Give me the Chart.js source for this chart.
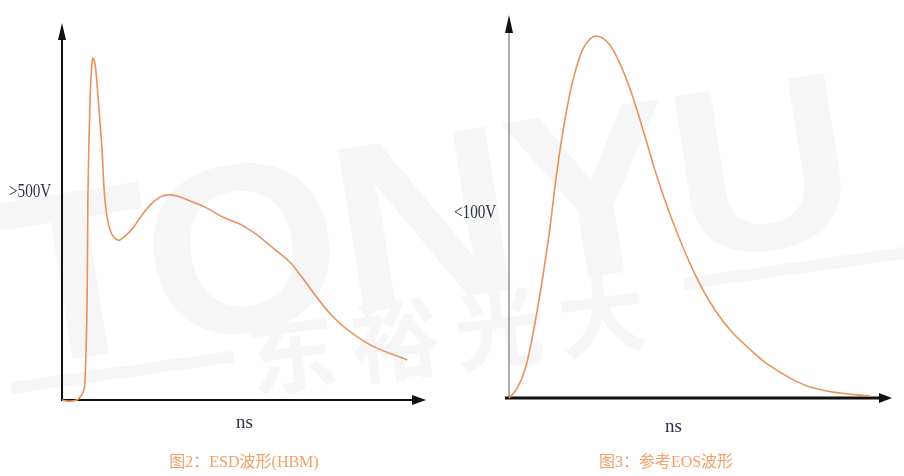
<!DOCTYPE html>
<html>
<head>
<meta charset="utf-8">
<script src="https://cdn.jsdelivr.net/npm/chart.js@4"></script>
<style>
  html, body { margin:0; padding:0; background:#fff; }
  #wrap { position:relative; width:904px; height:476px; overflow:hidden; background:#fff; }
  .cv { position:absolute; top:0; }
  .lbl { position:absolute; font-family:"Liberation Serif", serif; color:#2d3448; white-space:nowrap; }
  .cap { position:absolute; font-family:"Liberation Serif","Noto Sans CJK SC", serif; color:#f39f68; font-size:16px; white-space:nowrap; transform:translateX(-50%); }
  .wm { position:absolute; color:#f6f6f6; font-family:"Liberation Sans", sans-serif; font-weight:bold; white-space:nowrap; transform-origin:0 0; }
</style>
</head>
<body>
<div id="wrap">
  <div class="wm" style="left:-20px; top:150px; font-size:240px; letter-spacing:-4px; transform:rotate(-9deg) scaleX(1.05);">TONYU</div>
  <div class="wm" style="left:240px; top:290px; font-size:88px; font-family:'Noto Sans CJK SC'; letter-spacing:16px; transform:rotate(-7deg);">东裕光大</div>
  <div class="wm" style="left:10px; top:382px; width:225px; height:12px; background:#f6f6f6; transform:rotate(-8deg);"></div>
  <div class="wm" style="left:683px; top:278px; width:225px; height:12px; background:#f6f6f6; transform:rotate(-8deg);"></div>

  <div class="cv" style="left:0; width:450px; height:476px;"><canvas id="c1"></canvas></div>
  <div class="cv" style="left:450px; width:454px; height:476px;"><canvas id="c2"></canvas></div>

  <div class="lbl" style="left:9px; top:180px; font-size:19px; transform:scaleX(0.8); transform-origin:0 0;">&gt;500V</div>
  <div class="lbl" style="left:454px; top:201px; font-size:19px; transform:scaleX(0.8); transform-origin:0 0;">&lt;100V</div>
  <div class="lbl" style="left:236px; top:411px; font-size:19px;">ns</div>
  <div class="lbl" style="left:665px; top:415px; font-size:19px;">ns</div>

  <div class="cap" style="left:244px; top:448px;">图2：ESD波形(HBM)</div>
  <div class="cap" style="left:666px; top:448px;">图3：参考EOS波形</div>
</div>
<script>
// ESD (HBM) waveform, arbitrary units (time 0-100, voltage 0-100)
const esdTime = [0, 1.6, 4.1, 5.8, 6.3, 6.9, 7.1, 7.7, 8.1, 8.5, 9.1, 9.6, 11.0, 11.8, 13.2, 15.4, 17.3, 19.5, 21.4, 24.2, 26.9, 29.1, 31.6, 35.2, 39.8, 44.2, 48.1, 50.8, 53.6, 58.0, 62.6, 65.4, 74.5, 83.8, 94.8];
const esdVolt = [0, -0.3, 0, 2.1, 4.5, 26.5, 53.1, 79.6, 87.5, 90.7, 88.9, 84.1, 66.3, 53.1, 45.1, 42.4, 43.5, 45.6, 48.3, 51.7, 53.8, 54.4, 54.1, 52.8, 50.9, 48.5, 47.0, 45.6, 43.8, 40.3, 36.6, 33.2, 22.0, 15.1, 10.6];

// Reference EOS waveform, arbitrary units
const eosTime = [0, 2.1, 4.2, 6.3, 8.4, 10.5, 12.3, 13.9, 15.6, 17.5, 19.8, 22.5, 25.6, 28.5, 31.6, 35.0, 38.1, 40.7, 43.9, 48.0, 52.5, 57.7, 63.7, 67.4, 73.4, 78.6, 86.4, 94.3];
const eosVolt = [0, 2.5, 7.5, 17.0, 29.0, 43.0, 57.5, 68.5, 78.0, 86.0, 92.0, 94.5, 93.0, 88.3, 80.7, 70.0, 59.5, 51.7, 43.1, 33.5, 25.0, 17.8, 12.0, 8.9, 5.2, 2.9, 1.3, 0.5];

const axisRange = { min: 0, max: 100 };

function pts(xs, ys) { return xs.map((x, i) => ({ x: x, y: ys[i] })); }

function arrowAxes(opts) {
  return {
    id: 'arrowAxes',
    beforeDatasetsDraw(chart) {
      const ctx = chart.ctx, xs = chart.scales.x, ys = chart.scales.y;
      const x0 = xs.getPixelForValue(0), y0 = ys.getPixelForValue(0);
      const xEnd = xs.getPixelForValue(100), yEnd = ys.getPixelForValue(100);
      ctx.save();
      ctx.strokeStyle = opts.yColor; ctx.lineWidth = opts.yWidth;
      ctx.beginPath(); ctx.moveTo(x0, y0 + 1); ctx.lineTo(x0, yEnd + opts.yArrowLen - 1); ctx.stroke();
      ctx.fillStyle = '#111';
      ctx.beginPath(); ctx.moveTo(x0, yEnd); ctx.lineTo(x0 - opts.yArrowHalf, yEnd + opts.yArrowLen); ctx.lineTo(x0 + opts.yArrowHalf, yEnd + opts.yArrowLen); ctx.closePath(); ctx.fill();
      ctx.strokeStyle = '#111'; ctx.lineWidth = opts.xWidth;
      ctx.beginPath(); ctx.moveTo(x0 - opts.xStartPad, y0); ctx.lineTo(xEnd - opts.xArrowLen + 1, y0); ctx.stroke();
      ctx.beginPath(); ctx.moveTo(xEnd, y0); ctx.lineTo(xEnd - opts.xArrowLen, y0 - opts.xArrowHalf); ctx.lineTo(xEnd - opts.xArrowLen, y0 + opts.xArrowHalf); ctx.closePath(); ctx.fill();
      ctx.restore();
    }
  };
}

function makeChart(id, xs, ys, padding, axisOpts, smooth) {
  const ds = { data: pts(xs, ys), borderColor: '#e8925e', borderWidth: 1.6, pointRadius: 0, fill: false, clip: false, tension: smooth };
  return new Chart(document.getElementById(id), {
    type: 'line',
    data: { datasets: [ds] },
    options: {
      responsive: true, maintainAspectRatio: false, animation: false,
      layout: { padding: padding },
      plugins: { legend: { display: false }, tooltip: { enabled: false } },
      scales: {
        x: { type: 'linear', display: false, min: axisRange.min, max: axisRange.max },
        y: { type: 'linear', display: false, min: axisRange.min, max: axisRange.max }
      }
    },
    plugins: [arrowAxes(axisOpts)]
  });
}

makeChart('c1', esdTime, esdVolt, { left: 62, top: 23, right: 24, bottom: 76 },
  { yColor: '#111', yWidth: 2, xWidth: 2.2, yArrowLen: 17, yArrowHalf: 4, xArrowLen: 14, xArrowHalf: 5, xStartPad: 1 }, 0.35);
makeChart('c2', eosTime, eosVolt, { left: 59, top: 15, right: 12, bottom: 78 },
  { yColor: '#777', yWidth: 1.2, xWidth: 3, yArrowLen: 18, yArrowHalf: 4, xArrowLen: 13, xArrowHalf: 5, xStartPad: 4 }, 0.4);
</script>
</body>
</html>
